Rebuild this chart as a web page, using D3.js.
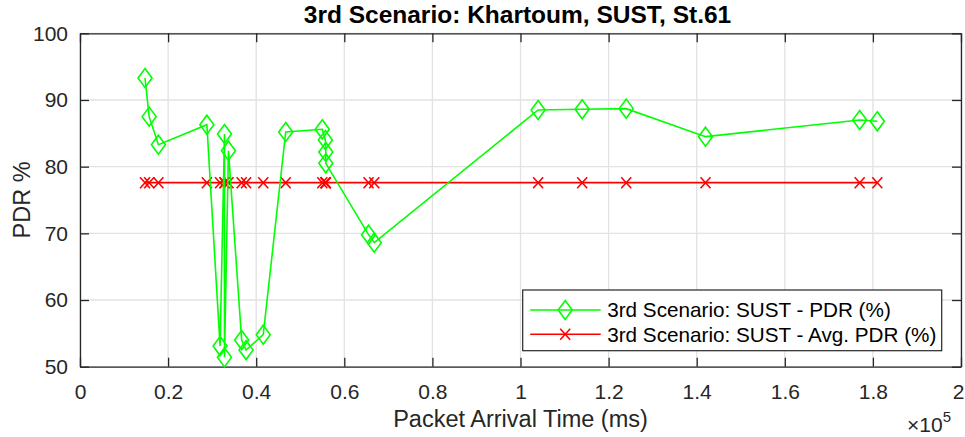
<!DOCTYPE html>
<html>
<head>
<meta charset="utf-8">
<script src="https://cdn.jsdelivr.net/npm/d3@7"></script>
<style>
  body { margin: 0; background: #fff; }
  text { font-family: "Liberation Sans", Arial, sans-serif; fill: #262626; }
</style>
</head>
<body>
<div id="chart"></div>
<script>
// packet arrival time (ms) and PDR (%)
var arrivalTime = [14760, 15700, 17800, 28800, 31800, 32800, 32800, 33700, 36700, 37700,
  41600, 46700, 55000, 55700, 55800, 55800, 65500, 66800, 104000, 114000,
  124000, 142000, 177000, 181000];
var pdrValues = [93.3, 87.5, 83.3, 86.3, 53.1, 84.9, 51.4, 82.4, 54.0, 52.5,
  54.8, 85.2, 85.6, 84.0, 82.2, 80.5, 69.8, 68.6, 88.5, 88.6,
  88.7, 84.5, 87.0, 86.8];
var avgPdr = [77.6, 77.6, 77.6, 77.6, 77.6, 77.6, 77.6, 77.6, 77.6, 77.6,
  77.6, 77.6, 77.6, 77.6, 77.6, 77.6, 77.6, 77.6, 77.6, 77.6,
  77.6, 77.6, 77.6, 77.6];
var xTicks = [0, 20000, 40000, 60000, 80000, 100000, 120000, 140000, 160000, 180000, 200000];
var xTickLabels = ["0", "0.2", "0.4", "0.6", "0.8", "1", "1.2", "1.4", "1.6", "1.8", "2"];
var yTicks = [50, 60, 70, 80, 90, 100];
var seriesNames = ["3rd Scenario: SUST - PDR (%)", "3rd Scenario: SUST - Avg. PDR (%)"];

var W = 965, H = 437;
var margin = { top: 33.3, right: 4, bottom: 70.3, left: 80 },
  width = W - margin.left - margin.right,
  height = H - margin.top - margin.bottom;

var svg = d3.select("#chart")
  .append("svg")
  .attr("width", W)
  .attr("height", H);

var g = svg.append("g")
  .attr("transform", "translate(" + margin.left + "," + margin.top + ")");

var x = d3.scaleLinear().domain([0, 200000]).range([0, width]);
var y = d3.scaleLinear().domain([50, 100]).range([height, 0]);

// gridlines
g.append("g")
  .selectAll("line.gx")
  .data(xTicks)
  .join("line")
  .attr("x1", d => x(d)).attr("x2", d => x(d))
  .attr("y1", 0).attr("y2", height)
  .attr("stroke", "#e2e2e2").attr("stroke-width", 1.3);
g.append("g")
  .selectAll("line.gy")
  .data(yTicks)
  .join("line")
  .attr("x1", 0).attr("x2", width)
  .attr("y1", d => y(d)).attr("y2", d => y(d))
  .attr("stroke", "#e2e2e2").attr("stroke-width", 1.3);

// axes, ticks pointing inward on all four sides
function styleAxis(sel) {
  sel.select(".domain").attr("stroke", "#262626").attr("stroke-width", 1.3);
  sel.selectAll(".tick line").attr("stroke", "#262626").attr("stroke-width", 1.3);
  sel.selectAll("text").attr("fill", "#262626").style("font-size", "21px")
    .style("font-family", "'Liberation Sans', Arial, sans-serif");
}

var xAxisG = g.append("g")
  .attr("transform", "translate(0," + height + ")")
  .call(d3.axisBottom(x).tickValues(xTicks)
    .tickFormat((d, i) => xTickLabels[i])
    .tickSizeInner(-9).tickSizeOuter(0).tickPadding(17))
  .call(styleAxis);
// last label sits against the window edge
xAxisG.selectAll(".tick text").filter(d => d === 200000).attr("dx", "-3");

g.append("g")
  .call(d3.axisTop(x).tickValues(xTicks).tickFormat("")
    .tickSizeInner(-9).tickSizeOuter(0))
  .call(styleAxis);

g.append("g")
  .call(d3.axisLeft(y).tickValues(yTicks)
    .tickSizeInner(-9).tickSizeOuter(0).tickPadding(12))
  .call(styleAxis);

g.append("g")
  .attr("transform", "translate(" + width + ",0)")
  .call(d3.axisRight(y).tickValues(yTicks).tickFormat("")
    .tickSizeInner(-9).tickSizeOuter(0))
  .call(styleAxis);

// series
var pts = arrivalTime.map((t, i) => ({ t: t, v: pdrValues[i], a: avgPdr[i] }));

var diamond = "M0,-9.5L7,0L0,9.5L-7,0Z";
var cross = "M-5,-5.5L5,5.5M-5,5.5L5,-5.5";

g.append("path")
  .datum(pts)
  .attr("fill", "none")
  .attr("stroke", "#ff0000")
  .attr("stroke-width", 1.6)
  .attr("d", d3.line().x(d => x(d.t)).y(d => y(d.a)));

g.append("g")
  .selectAll("path")
  .data(pts)
  .join("path")
  .attr("transform", d => "translate(" + x(d.t) + "," + y(d.a) + ")")
  .attr("d", cross)
  .attr("fill", "none")
  .attr("stroke", "#ff0000")
  .attr("stroke-width", 1.6);

g.append("path")
  .datum(pts)
  .attr("fill", "none")
  .attr("stroke", "#00ff00")
  .attr("stroke-width", 1.6)
  .attr("d", d3.line().x(d => x(d.t)).y(d => y(d.v)));

g.append("g")
  .selectAll("path")
  .data(pts)
  .join("path")
  .attr("transform", d => "translate(" + x(d.t) + "," + y(d.v) + ")")
  .attr("d", diamond)
  .attr("fill", "none")
  .attr("stroke", "#00ff00")
  .attr("stroke-width", 1.6);

// title and labels
svg.append("text")
  .attr("x", margin.left + width / 2 - 3)
  .attr("y", 23)
  .attr("text-anchor", "middle")
  .style("font-size", "24.5px")
  .style("font-weight", "bold")
  .style("fill", "#000")
  .text("3rd Scenario: Khartoum, SUST, St.61");

svg.append("text")
  .attr("x", margin.left + width / 2)
  .attr("y", 426.5)
  .attr("text-anchor", "middle")
  .style("font-size", "23.5px")
  .text("Packet Arrival Time (ms)");

svg.append("text")
  .attr("transform", "rotate(-90)")
  .attr("x", -(margin.top + height / 2))
  .attr("y", 30)
  .attr("text-anchor", "middle")
  .style("font-size", "23.5px")
  .text("PDR %");

var expo = svg.append("text")
  .attr("x", 907)
  .attr("y", 432)
  .style("font-size", "21px");
expo.append("tspan").text("\u00d710");
expo.append("tspan").attr("dy", -10).style("font-size", "15px").text("5");

// legend
var lg = svg.append("g").attr("transform", "translate(522.7,290)");
lg.append("rect")
  .attr("width", 419)
  .attr("height", 60.7)
  .attr("fill", "#fff")
  .attr("stroke", "#262626")
  .attr("stroke-width", 1.2);

var rows = [
  { name: seriesNames[0], color: "#00ff00", marker: diamond, cy: 20 },
  { name: seriesNames[1], color: "#ff0000", marker: cross, cy: 44.3 }
];
rows.forEach(function (r) {
  lg.append("line")
    .attr("x1", 7.5).attr("x2", 78)
    .attr("y1", r.cy).attr("y2", r.cy)
    .attr("stroke", r.color).attr("stroke-width", 1.6);
  lg.append("path")
    .attr("transform", "translate(42.5," + r.cy + ")")
    .attr("d", r.marker)
    .attr("fill", "none")
    .attr("stroke", r.color).attr("stroke-width", 1.6);
  lg.append("text")
    .attr("x", 84.5)
    .attr("y", r.cy)
    .attr("dy", "0.35em")
    .style("font-size", "20.7px")
    .style("fill", "#000")
    .text(r.name);
});
</script>
</body>
</html>
